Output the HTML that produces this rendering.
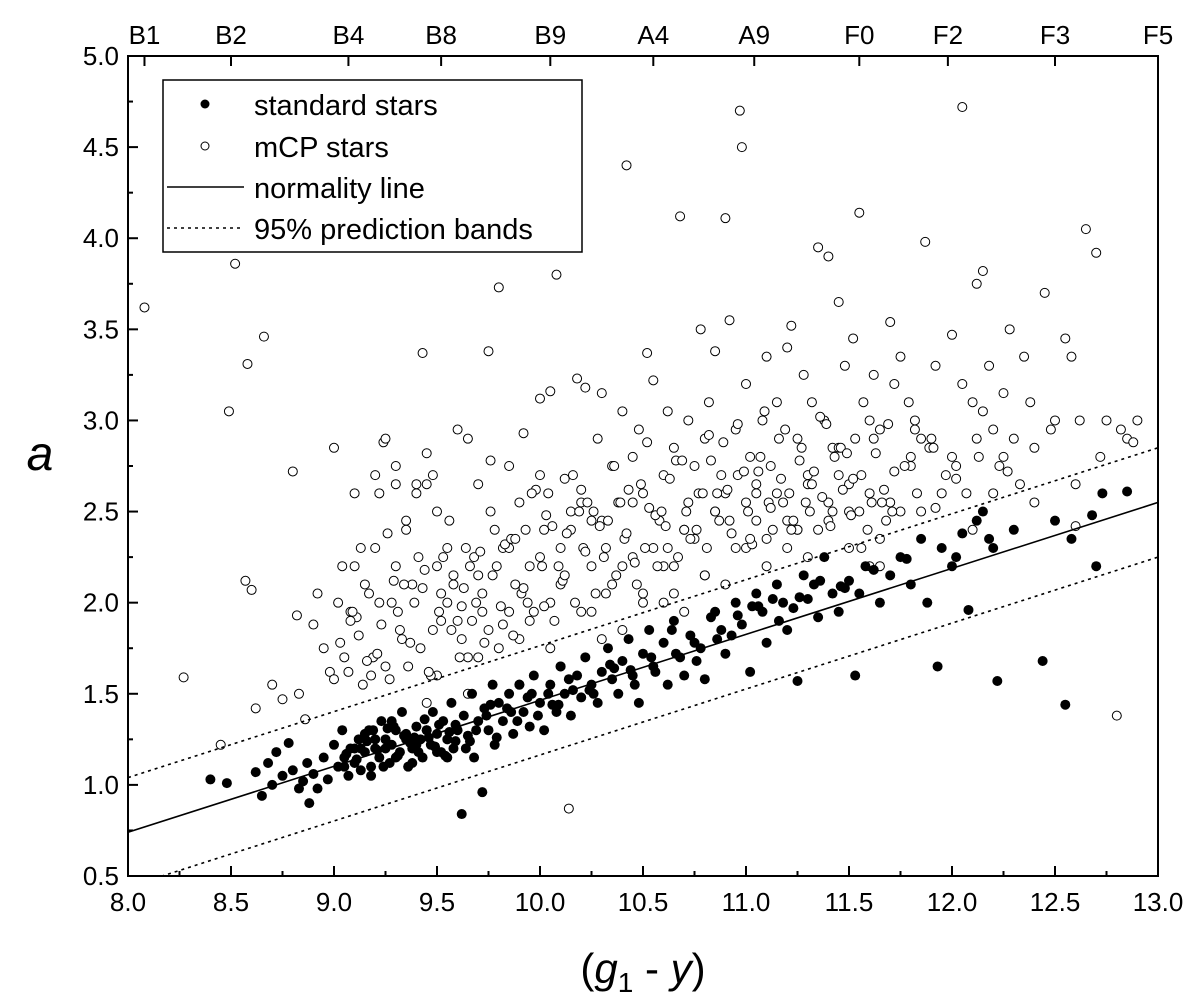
<!DOCTYPE html>
<html><head><meta charset="utf-8"><style>
body{margin:0;background:#fff}
svg{display:block;font-family:"Liberation Sans",Arial,sans-serif}
</style></head><body>
<svg id="chart" width="1200" height="1004" viewBox="0 0 1200 1004">
<g id="marks"></g>
<g id="axes"></g>
<g>
<rect x="163" y="80" width="419" height="172" fill="#fff" stroke="#000" stroke-width="1.5"/>
<circle cx="205" cy="104" r="4.5" fill="#000"/>
<text x="254" y="115" font-size="29">standard stars</text>
<circle cx="205" cy="146" r="4" fill="#fff" stroke="#000"/>
<text x="254" y="157" font-size="29">mCP stars</text>
<line x1="167" y1="187" x2="244" y2="187" stroke="#000" stroke-width="1.5"/>
<text x="254" y="198" font-size="29">normality line</text>
<line x1="167" y1="228" x2="244" y2="228" stroke="#000" stroke-width="1.5" stroke-dasharray="3,4"/>
<text x="254" y="239" font-size="29">95% prediction bands</text>
</g>
<text x="40" y="470" font-size="48" font-style="italic" text-anchor="middle">a</text>
<text x="643" y="983" font-size="42" text-anchor="middle">(<tspan font-style="italic">g</tspan><tspan font-size="28" dy="9">1</tspan><tspan dy="-9"> - </tspan><tspan font-style="italic">y</tspan>)</text>
</svg>
<script>
const xTicks=[8.0,8.5,9.0,9.5,10.0,10.5,11.0,11.5,12.0,12.5,13.0];
const yTicks=[0.5,1.0,1.5,2.0,2.5,3.0,3.5,4.0,4.5,5.0];
const specLabels=["B1","B2","B4","B8","B9","A4","A9","F0","F2","F3","F5"];
const specPos=[8.08,8.5,9.07,9.52,10.05,10.55,11.04,11.55,11.98,12.5,13.0];
const lineSlope=0.362, lineIntercept=-2.156, bandWidth=0.30;
const stdX=[8.4,8.48,8.62,8.65,8.68,8.7,8.72,8.75,8.78,8.8,8.83,8.85,8.87,8.88,8.9,8.92,8.95,8.97,9.0,9.02,9.04,9.05,9.07,9.08,9.1,9.12,9.13,9.15,9.17,9.18,9.2,9.22,9.23,9.25,9.27,9.28,9.3,9.32,9.33,9.35,9.36,9.38,9.4,9.42,9.43,9.45,9.47,9.48,9.5,9.52,9.53,9.55,9.57,9.58,9.6,9.62,9.63,9.65,9.67,9.68,9.7,9.72,9.73,9.75,9.77,9.78,9.8,9.82,9.85,9.87,9.9,9.92,9.95,9.97,10.0,10.02,10.05,10.08,10.1,10.12,10.15,10.18,10.2,10.22,10.25,10.28,10.3,10.33,10.35,10.38,10.4,10.43,10.45,10.48,10.5,10.53,10.55,10.6,10.62,10.65,10.68,10.7,10.73,10.78,10.8,10.85,10.88,10.9,10.95,10.98,11.02,11.05,11.08,11.1,11.15,11.18,11.2,11.25,11.28,11.3,11.35,11.38,11.42,11.45,11.5,11.53,11.55,11.58,11.65,11.7,11.75,11.8,11.85,11.88,11.93,11.95,12.0,12.05,12.08,12.12,12.15,12.2,12.22,12.3,12.44,12.5,12.55,12.58,12.68,12.7,12.73,12.85,9.1,9.2,9.3,9.4,9.5,9.15,9.25,9.35,9.45,9.55,9.05,9.38,9.28,9.18,
9.06,9.11,9.16,9.21,9.26,9.31,9.34,9.37,9.41,9.44,9.46,9.49,9.51,9.54,9.56,9.59,9.64,9.69,9.74,9.79,9.84,9.89,9.94,9.99,10.04,10.09,10.14,10.24,10.34,10.44,10.54,10.64,10.75,10.83,10.93,11.03,11.13,11.23,11.33,11.48,11.62,11.78,12.02,12.18,9.13,9.19,9.24,9.29,9.39,9.49,9.59,9.66,9.76,9.86,9.96,10.06,10.16,10.26,10.36,10.46,10.56,10.66,10.76,10.86,10.96,11.06,11.16,11.26,11.36,11.46];
const stdY=[1.03,1.01,1.07,0.94,1.12,1.0,1.18,1.05,1.23,1.08,0.98,1.02,1.12,0.9,1.06,0.98,1.15,1.03,1.22,1.1,1.3,1.15,1.05,1.2,1.12,1.25,1.08,1.18,1.3,1.1,1.2,1.15,1.35,1.25,1.12,1.22,1.3,1.18,1.4,1.28,1.1,1.2,1.32,1.25,1.15,1.3,1.22,1.4,1.28,1.18,1.35,1.25,1.45,1.2,1.3,0.84,1.38,1.27,1.5,1.15,1.35,0.96,1.42,1.3,1.55,1.22,1.45,1.35,1.5,1.28,1.55,1.4,1.32,1.6,1.45,1.3,1.55,1.4,1.65,1.5,1.38,1.6,1.48,1.7,1.55,1.45,1.62,1.75,1.58,1.5,1.68,1.8,1.6,1.45,1.72,1.85,1.65,1.78,1.55,1.9,1.7,1.6,1.82,1.75,1.58,1.95,1.85,1.72,2.0,1.88,1.62,2.05,1.95,1.78,2.1,2.0,1.85,1.57,2.15,2.02,1.92,2.25,2.05,1.95,2.12,1.6,2.05,2.2,2.0,2.15,2.25,2.1,2.35,2.0,1.65,2.3,2.2,2.38,1.96,2.45,2.5,2.3,1.57,2.4,1.68,2.45,1.44,2.35,2.48,2.2,2.6,2.61,1.2,1.25,1.15,1.22,1.18,1.28,1.2,1.25,1.3,1.15,1.1,1.12,1.35,1.05,
1.17,1.14,1.24,1.19,1.31,1.16,1.27,1.23,1.18,1.36,1.26,1.21,1.33,1.16,1.29,1.24,1.2,1.3,1.38,1.26,1.42,1.35,1.48,1.38,1.5,1.44,1.58,1.52,1.66,1.63,1.7,1.85,1.78,1.92,1.82,1.98,2.02,1.97,2.1,2.08,2.18,2.24,2.25,2.35,1.2,1.3,1.1,1.32,1.26,1.21,1.33,1.24,1.44,1.4,1.5,1.44,1.52,1.5,1.64,1.55,1.62,1.72,1.68,1.8,1.93,1.98,1.9,2.03,2.12,2.09];
const mcpX=[8.08,8.27,8.45,8.49,8.52,8.57,8.58,8.6,8.62,8.66,8.7,8.75,8.8,8.82,8.83,8.86,8.9,8.92,8.95,8.98,9.0,9.02,9.05,9.08,9.1,9.12,9.15,9.18,9.2,9.22,9.24,9.25,9.28,9.3,9.32,9.35,9.38,9.4,9.43,9.45,9.48,9.5,9.52,9.55,9.58,9.6,9.62,9.65,9.68,9.7,9.72,9.75,9.76,9.78,9.8,9.82,9.85,9.88,9.9,9.92,9.95,9.98,10.0,10.02,10.05,10.08,10.1,10.12,10.14,10.15,10.18,10.2,10.22,10.25,10.28,10.3,10.32,10.35,10.38,10.4,10.42,10.45,10.48,10.5,10.52,10.55,10.58,10.6,10.62,10.65,10.68,10.7,10.72,10.75,10.78,10.8,10.82,10.85,10.88,10.9,10.92,10.95,10.97,10.98,11.0,11.02,11.05,11.08,11.1,11.12,11.15,11.18,11.2,11.22,11.25,11.28,11.3,11.32,11.35,11.38,11.4,11.42,11.45,11.48,11.5,11.52,11.55,11.57,11.6,11.62,11.65,11.68,11.7,11.72,11.75,11.8,11.82,11.85,11.87,11.9,11.92,11.95,12.0,12.02,12.05,12.1,12.12,12.15,12.18,12.2,12.25,12.28,12.3,12.35,12.4,12.45,12.5,12.55,12.58,12.6,12.65,12.7,12.72,12.8,12.82,12.85,12.9,
9.3,9.45,9.6,9.75,9.9,10.05,10.2,10.35,10.5,10.65,10.8,10.95,11.1,11.25,11.4,11.55,11.7,9.35,9.5,9.65,9.8,9.95,10.1,10.25,10.4,10.55,10.7,10.85,11.0,11.15,11.3,11.45,11.6,9.2,9.4,9.55,9.7,9.85,10.0,10.15,10.3,10.45,10.6,10.75,10.9,11.05,11.2,11.35,11.5,11.65,11.8,12.0,12.2,10.0,10.2,10.4,10.6,10.8,11.0,11.2,11.4,11.6,9.1,9.3,9.5,9.7,9.9,10.1,10.3,10.5,10.7,10.9,11.1,11.3,11.5,11.75,12.1,12.4,12.6,9.0,9.25,9.45,9.65,9.85,10.05,10.25,10.45,10.65,10.85,11.05,11.25,11.45,11.65,11.85,12.25];
const mcpY=[3.62,1.59,1.22,3.05,3.86,2.12,3.31,2.07,1.42,3.46,1.55,1.47,2.72,1.93,1.5,1.36,1.88,2.05,1.75,1.62,1.58,2.0,1.7,1.95,2.2,1.82,2.1,1.6,2.3,2.6,2.88,1.65,2.0,2.2,1.85,2.4,2.1,2.6,3.37,2.65,2.7,2.2,1.9,2.3,2.1,2.95,1.98,2.9,2.25,2.65,2.05,3.38,2.78,2.4,3.73,2.3,2.75,2.1,2.55,2.93,2.2,2.62,3.12,2.4,3.16,3.8,2.3,2.68,0.87,2.5,3.23,2.62,3.18,2.45,2.9,3.15,2.3,2.75,2.55,3.05,4.4,2.8,2.95,2.6,3.37,3.22,2.45,2.7,3.05,2.85,4.12,2.4,3.0,2.75,3.5,2.9,3.1,3.38,2.7,4.11,3.55,2.95,4.7,4.5,3.2,2.8,2.6,3.0,3.35,2.75,3.1,2.55,3.4,3.52,2.9,3.25,2.7,3.1,3.95,3.0,3.9,2.85,3.65,3.3,2.65,3.45,4.14,3.1,3.0,3.25,2.95,2.45,3.54,3.2,3.35,2.8,3.0,2.5,3.98,2.9,3.3,2.6,3.47,2.75,4.72,3.1,3.75,3.82,3.3,2.95,3.15,3.5,2.9,3.35,2.85,3.7,3.0,3.45,3.35,2.42,4.05,3.92,2.8,1.38,2.95,2.9,3.0,2.65,2.82,
1.9,1.85,1.8,2.0,1.95,2.1,2.05,2.2,2.15,2.3,2.35,2.4,2.45,2.5,2.55,2.45,2.5,1.7,1.75,1.9,2.1,2.2,2.2,2.3,2.4,2.5,2.55,2.6,2.65,2.7,2.6,2.7,2.65,2.0,2.15,2.3,2.25,2.4,2.45,2.55,2.2,2.35,2.6,2.45,2.3,2.4,2.5,2.35,2.75,2.8,2.6,2.7,2.55,1.85,2.0,2.15,2.3,2.45,2.55,2.2,2.6,2.75,1.6,1.7,1.55,1.65,1.8,2.0,1.95,2.1,2.2,2.25,2.3,2.5,2.4,2.55,2.65,2.85,2.9,1.45,1.5,1.95,1.75,1.95,2.25,2.05,2.5,2.65,2.4,2.85,2.2,2.9,2.8,2.25,2.7];
const mcpX2=[9.03,9.07,9.11,9.14,9.17,9.19,9.23,9.27,9.29,9.33,9.36,9.39,9.42,9.44,9.47,9.51,9.53,9.57,9.61,9.63,9.67,9.71,9.73,9.77,9.81,9.83,9.87,9.91,9.93,9.97,10.01,10.03,10.07,10.11,10.13,10.17,10.21,10.23,10.27,10.31,10.33,10.37,10.41,10.43,10.47,10.51,10.53,10.57,10.61,10.63,10.67,10.71,10.73,10.77,10.81,10.83,10.87,10.91,10.93,10.96,11.01,11.03,11.07,11.11,11.13,11.17,11.21,11.23,11.27,11.31,11.33,11.37,11.41,11.43,11.47,11.51,11.53,11.56,11.61,11.63,11.67,11.71,11.77,11.83,11.89,11.97,12.07,12.13,12.23,12.33,
9.04,9.09,9.13,9.21,9.26,9.31,9.37,9.41,9.46,9.52,9.56,9.62,9.66,9.72,9.76,9.82,9.86,9.92,9.96,10.02,10.06,10.12,10.16,10.22,10.26,10.32,10.36,10.42,10.46,10.52,10.56,10.62,10.66,10.72,10.76,10.82,10.86,10.92,10.96,11.02,11.06,11.12,11.16,11.22,11.26,11.32,11.36,11.42,11.46,11.52,11.56,11.62,11.66,11.72,11.82,11.92,12.02,12.12,
9.08,9.16,9.22,9.34,9.43,9.48,9.58,9.64,9.69,9.79,9.88,9.94,10.04,10.09,10.19,10.29,10.39,10.49,10.59,10.69,10.79,10.89,10.99,11.09,11.19,11.29,11.39,11.49,11.59,11.69,11.79,11.91,12.05,12.15,12.27,12.38,12.48,12.62,12.75,12.88];
const mcpY2=[1.78,1.62,1.92,1.55,2.05,1.7,1.88,1.58,2.12,1.8,1.65,2.0,1.75,2.18,1.6,1.95,2.25,1.85,1.7,2.08,1.9,2.28,1.78,2.15,1.98,2.32,1.82,2.05,2.4,1.95,2.2,2.48,1.9,2.12,2.38,2.0,2.3,2.55,2.05,2.25,2.45,2.15,2.35,2.62,2.1,2.3,2.52,2.2,2.42,2.68,2.25,2.5,2.35,2.6,2.3,2.78,2.45,2.62,2.38,2.7,2.5,2.32,2.8,2.55,2.4,2.68,2.6,2.45,2.85,2.5,2.72,2.58,2.42,2.8,2.62,2.48,2.9,2.7,2.55,2.82,2.62,2.5,2.75,2.6,2.85,2.7,2.6,2.8,2.75,2.65,
2.2,1.95,2.3,1.72,2.38,1.95,1.78,2.25,1.62,2.05,2.45,1.8,2.2,1.95,2.5,1.88,2.35,2.08,2.6,1.98,2.42,2.15,2.7,2.28,2.5,2.05,2.75,2.38,2.22,2.88,2.48,2.3,2.78,2.55,2.4,2.92,2.6,2.45,2.98,2.35,2.72,2.52,2.9,2.4,2.78,2.65,3.02,2.5,2.85,2.68,2.3,2.9,2.55,2.72,2.95,2.52,2.68,2.9,
1.9,1.68,2.0,2.1,2.08,1.85,2.15,2.3,2.0,2.2,2.35,2.0,2.6,2.2,2.5,2.42,2.55,2.65,2.5,2.78,2.6,2.88,2.72,3.05,2.95,2.55,2.98,2.82,2.4,2.98,3.1,2.85,3.2,3.05,2.72,3.1,2.95,3.0,3.0,2.88];
const NS="http://www.w3.org/2000/svg";
const X0=128,X1=1158,Y0=876,Y1=56;
function sx(v){return X0+(v-8)/(13-8)*(X1-X0);}
function sy(v){return Y0-(v-0.5)/(5-0.5)*(Y0-Y1);}
function mk(t,a,p){const e=document.createElementNS(NS,t);for(const k in a)e.setAttribute(k,a[k]);p.appendChild(e);return e;}
const marks=document.getElementById('marks'),axes=document.getElementById('axes');
const defs=mk('clipPath',{id:'clip'},document.getElementById('chart'));
mk('rect',{x:X0,y:Y1,width:X1-X0,height:Y0-Y1},defs);
marks.setAttribute('clip-path','url(#clip)');
function openPts(xs,ys){
 for(let i=0;i<xs.length;i++){
  const c=mk('circle',{cx:sx(xs[i]),cy:sy(ys[i]),r:4.5,fill:'#fff',stroke:'#000','stroke-width':1},marks);
  
  
 }
}
openPts(mcpX,mcpY);openPts(mcpX2,mcpY2);
for(let i=0;i<stdX.length;i++){
 const c=mk('circle',{cx:sx(stdX[i]),cy:sy(stdY[i]),r:5,fill:'#000'},marks);
 
 
}
function ln(off,dash,name){
 const l=mk('line',{x1:sx(8),y1:sy(lineSlope*8+lineIntercept+off),x2:sx(13),y2:sy(lineSlope*13+lineIntercept+off),stroke:'#000','stroke-width':1.6},marks);
 if(dash)l.setAttribute('stroke-dasharray','3,4');
 
 
}
ln(0,false,'normality-line');ln(bandWidth,true,'upper-prediction-band');ln(-bandWidth,true,'lower-prediction-band');
const fr=mk('rect',{x:X0,y:Y1,width:X1-X0,height:Y0-Y1,fill:'none',stroke:'#000','stroke-width':2},axes);


xTicks.forEach((v,i)=>{
 const x=sx(v);
 mk('line',{x1:x,y1:Y0,x2:x,y2:Y0-10,stroke:'#000','stroke-width':2},axes);
 if(i<xTicks.length-1){const m=sx(v+0.25);mk('line',{x1:m,y1:Y0,x2:m,y2:Y0-5,stroke:'#000','stroke-width':2},axes);}
 const t=mk('text',{x:x,y:Y0+35,'font-size':26,'text-anchor':'middle'},axes);t.textContent=v.toFixed(1);
 
 
});
yTicks.forEach((v,i)=>{
 const y=sy(v);
 mk('line',{x1:X0,y1:y,x2:X0+10,y2:y,stroke:'#000','stroke-width':2},axes);
 if(i<yTicks.length-1){const m=sy(v+0.25);mk('line',{x1:m?X0:X0,y1:m,x2:X0+5,y2:m,stroke:'#000','stroke-width':2},axes);}
 const t=mk('text',{x:X0-9,y:y+9,'font-size':26,'text-anchor':'end'},axes);t.textContent=v.toFixed(1);
 
 
});
specLabels.forEach((s,i)=>{
 const x=sx(specPos[i]);
 mk('line',{x1:x,y1:Y1,x2:x,y2:Y1+10,stroke:'#000','stroke-width':2},axes);
 const t=mk('text',{x:x,y:44,'font-size':26,'text-anchor':'middle'},axes);t.textContent=s;
 
 
});
</script>
</body></html>
